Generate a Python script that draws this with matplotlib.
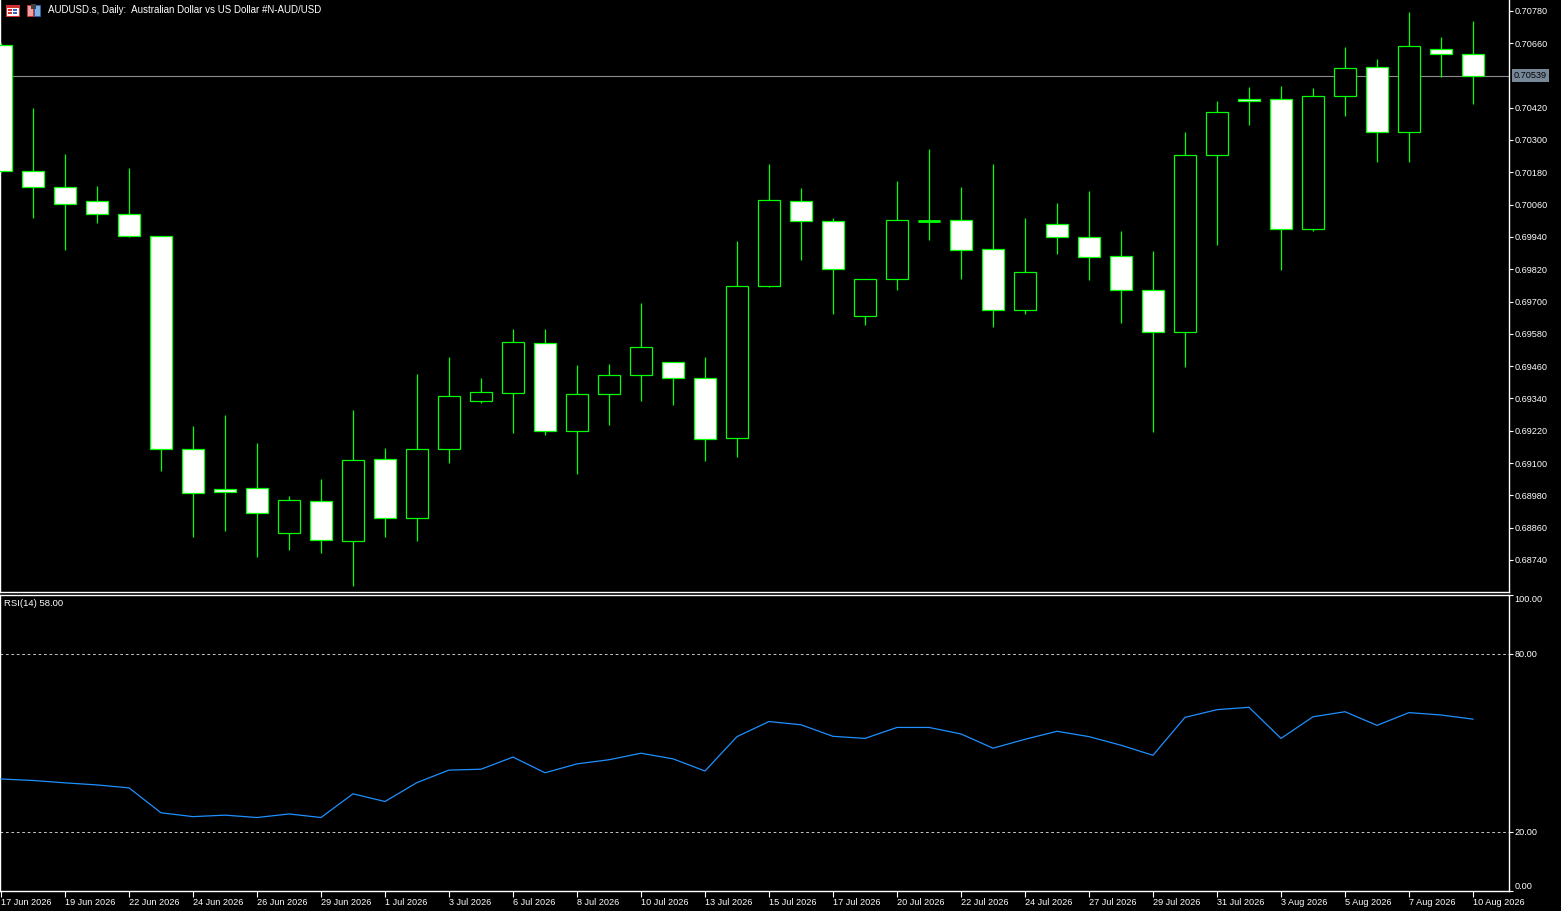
import matplotlib
matplotlib.use('Agg')
import matplotlib.pyplot as plt
from matplotlib.patches import Rectangle
import numpy as np

plt.rcParams['font.family'] = ['Liberation Sans', 'DejaVu Sans']

# ---------------- data ----------------
date_labels = ['17 Jun 2026', '19 Jun 2026', '22 Jun 2026', '24 Jun 2026', '26 Jun 2026',
               '29 Jun 2026', '1 Jul 2026', '3 Jul 2026', '6 Jul 2026', '8 Jul 2026',
               '10 Jul 2026', '13 Jul 2026', '15 Jul 2026', '17 Jul 2026', '20 Jul 2026',
               '22 Jul 2026', '24 Jul 2026', '27 Jul 2026', '29 Jul 2026', '31 Jul 2026',
               '3 Aug 2026', '5 Aug 2026', '7 Aug 2026', '10 Aug 2026']

opens = [0.70652, 0.70186, 0.70127, 0.70072, 0.70024, 0.69942, 0.69154, 0.69002, 0.69006, 0.68841,
         0.68958, 0.68812, 0.69114, 0.68896, 0.69151, 0.69329, 0.69359, 0.69545, 0.69218, 0.69355,
         0.69426, 0.69474, 0.69415, 0.69192, 0.69756, 0.70072, 0.69998, 0.69645, 0.69782, 0.70000,
         0.70002, 0.69894, 0.69667, 0.69987, 0.69938, 0.69868, 0.69742, 0.69586, 0.70243, 0.70451,
         0.70451, 0.69968, 0.70462, 0.70570, 0.70328, 0.70637, 0.70618]
highs = [0.70660, 0.70419, 0.70248, 0.70129, 0.70196, 0.69942, 0.69237, 0.69278, 0.69174, 0.68977,
         0.69040, 0.69297, 0.69156, 0.69431, 0.69494, 0.69416, 0.69598, 0.69598, 0.69464, 0.69468,
         0.69694, 0.69474, 0.69494, 0.69925, 0.70211, 0.70122, 0.70009, 0.69782, 0.70148, 0.70266,
         0.70125, 0.70211, 0.70010, 0.70066, 0.70110, 0.69962, 0.69888, 0.70330, 0.70445, 0.70497,
         0.70500, 0.70493, 0.70645, 0.70600, 0.70775, 0.70682, 0.70742]
lows = [0.70180, 0.70010, 0.69891, 0.69991, 0.69939, 0.69070, 0.68825, 0.68848, 0.68752, 0.68777,
        0.68766, 0.68644, 0.68825, 0.68811, 0.69101, 0.69324, 0.69213, 0.69205, 0.69060, 0.69242,
        0.69332, 0.69317, 0.69109, 0.69124, 0.69753, 0.69855, 0.69655, 0.69614, 0.69744, 0.69930,
        0.69785, 0.69606, 0.69655, 0.69878, 0.69781, 0.69621, 0.69216, 0.69458, 0.69911, 0.70357,
        0.69818, 0.69963, 0.70390, 0.70219, 0.70219, 0.70535, 0.70435]
closes = [0.70186, 0.70127, 0.70061, 0.70024, 0.69944, 0.69153, 0.68987, 0.68994, 0.68915, 0.68962,
          0.68815, 0.69113, 0.68896, 0.69151, 0.69348, 0.69363, 0.69548, 0.69218, 0.69355, 0.69426,
          0.69530, 0.69415, 0.69188, 0.69756, 0.70076, 0.69998, 0.69820, 0.69782, 0.70002, 0.70000,
          0.69890, 0.69667, 0.69808, 0.69938, 0.69864, 0.69742, 0.69586, 0.70243, 0.70403, 0.70444,
          0.69968, 0.70462, 0.70566, 0.70328, 0.70648, 0.70618, 0.70539]

rsi = [37.8, 37.3, 36.5, 35.8, 34.8, 26.4, 25.1, 25.6, 24.8, 26.0,
       24.8, 32.8, 30.2, 36.6, 40.8, 41.1, 45.2, 39.9, 42.9, 44.3,
       46.5, 44.6, 40.5, 52.1, 57.2, 56.1, 52.2, 51.5, 55.2, 55.2,
       53.0, 48.2, 51.2, 53.9, 52.1, 49.2, 45.8, 58.6, 61.2, 62.0,
       51.5, 58.8, 60.5, 55.9, 60.2, 59.4, 58.0]

price_ticks = [0.70780, 0.70660, 0.70420, 0.70300, 0.70180, 0.70060, 0.69940, 0.69820,
               0.69700, 0.69580, 0.69460, 0.69340, 0.69220, 0.69100, 0.68980, 0.68860, 0.68740]
last_price = 0.70539
rsi_ticks = [0, 20, 80, 100]
rsi_tick_labels = ['0.00', '20.00', '80.00', '100.00']
title = 'AUDUSD.s, Daily:  Australian Dollar vs US Dollar #N-AUD/USD'

# ---------------- layout ----------------
W, H = 1561, 911
fig = plt.figure(figsize=(W / 100, H / 100), dpi=100, facecolor='black')


def fx(px):
    return px / W


def fy(py):
    return 1 - py / H


ax = fig.add_axes([0, fy(592), fx(1509), fy(0) - fy(592)])
ax2 = fig.add_axes([0, fy(891), fx(1509), fy(594.7) - fy(891)])

GREEN = '#00ff00'
idx = np.arange(len(opens))
o = np.array(opens); c = np.array(closes); h = np.array(highs); l = np.array(lows)
bull = c >= o
faces = ['black' if b else 'white' for b in bull]

for a in (ax, ax2):
    a.set_facecolor('black')
    for s in ('left', 'right', 'bottom', 'top'):
        a.spines[s].set_color('white')
        a.spines[s].set_linewidth(1.0)
    a.set_xlim(-1 / 32, 1508 / 32)
ax.spines['top'].set_visible(False)

# candles
ax.axhline(last_price, color='#8c8c8c', lw=0.8, zorder=1.5)
ax.vlines(idx, l, h, color=GREEN, lw=0.9, zorder=2)
ax.bar(idx, np.abs(c - o), bottom=np.minimum(o, c), width=0.69, color=faces,
       edgecolor=GREEN, linewidth=0.9, zorder=3)
# flat (doji) bodies drawn as a thicker line like the terminal does
flat = np.abs(c - o) < 1e-6
ax.hlines(o[flat], idx[flat] - 0.345, idx[flat] + 0.345, color=GREEN, lw=2.0, zorder=4)

ax.set_ylim(0.68621, 0.70820)
ax.set_xticks([])
ax.yaxis.tick_right()
ax.set_yticks(price_ticks, [f'{p:.5f}' for p in price_ticks])
ax.tick_params(axis='y', colors='white', length=3, width=0.8, labelsize=6.6, pad=1)

ax.annotate(f'{last_price:.5f}', xy=(1.0, last_price), xycoords=('axes fraction', 'data'),
            xytext=(3.5, 0), textcoords='offset points', ha='left', va='center',
            fontsize=6.6, color='black',
            bbox=dict(boxstyle='square,pad=0.2', fc='#778899', ec='none'),
            annotation_clip=False)

# RSI
ax2.plot(idx, rsi, color='#1e90ff', lw=0.9, zorder=3)
for lvl in (80, 20):
    ax2.axhline(lvl, color='#c8c8c8', lw=0.7, ls=(0, (2.8, 2.8)), zorder=1)
ax2.set_ylim(0, 100)
ax2.yaxis.tick_right()
ax2.set_yticks(rsi_ticks, rsi_tick_labels)
ax2.tick_params(axis='y', colors='white', length=3, width=0.8, labelsize=6.6, pad=1)
ylabs = ax2.get_yticklabels()
ylabs[0].set_va('bottom')
ylabs[-1].set_va('top')

ax2.set_xticks(idx[::2], date_labels, ha='left',
               family=['Liberation Sans Narrow', 'Liberation Sans', 'DejaVu Sans'])
ax2.tick_params(axis='x', colors='white', length=4, width=0.8, labelsize=6.6, pad=1)

# texts
fig.text(fx(48), fy(10), title, color='white', fontsize=7.0, va='center', ha='left')
fig.text(fx(4), fy(604), f'RSI(14) {rsi[-1]:.2f}', color='white', fontsize=6.8,
         va='center', ha='left')

# small header icons
def prect(x, y, w, hh, fc, ec='none', lw=0):
    fig.add_artist(Rectangle((fx(x), fy(y + hh)), w / W, hh / H, transform=fig.transFigure,
                             fc=fc, ec=ec, lw=lw))

prect(6, 5, 13, 11, 'white', ec='#d03030', lw=0.8)
prect(6, 5, 13, 3, '#d03030')
prect(8, 9.5, 4, 1.2, '#d03030'); prect(13, 9.5, 4, 1.2, '#3060c0')
prect(8, 12.5, 4, 1.2, '#d03030'); prect(13, 12.5, 4, 1.2, '#3060c0')
prect(27, 5, 6, 11, '#f0a0a0', ec='#d03030', lw=0.6)
prect(34, 5, 6, 11, '#80b0e0', ec='#3060c0', lw=0.6)
prect(31, 4, 5, 5, '#404040')

fig.savefig('out.png', dpi=100, facecolor='black')
